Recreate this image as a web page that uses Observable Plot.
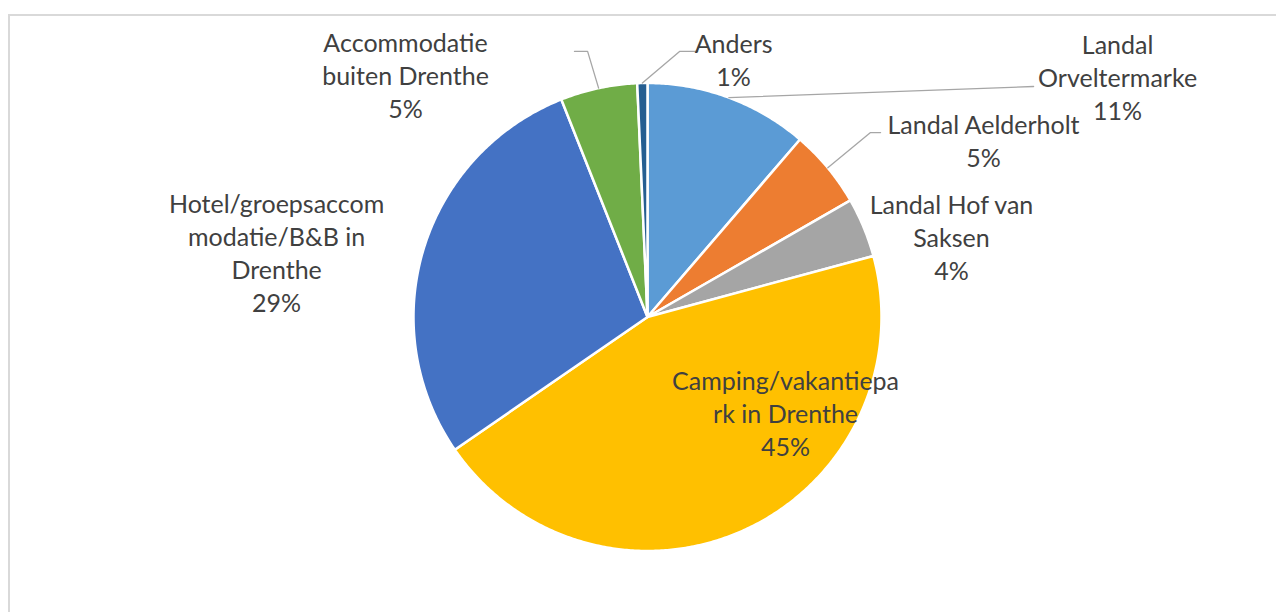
<!DOCTYPE html>
<html>
<head>
<meta charset="utf-8">
<script src="https://cdn.jsdelivr.net/npm/d3@7"></script>
<script src="https://cdn.jsdelivr.net/npm/@observablehq/plot@0.6"></script>
<style>
  html, body { margin: 0; padding: 0; background: #fff; overflow: hidden; width: 1276px; height: 612px; }
  #frame { position: absolute; left: 8px; top: 14px; width: 1400px; height: 800px; border: 2px solid #d9d9d9; box-sizing: border-box; }
  #chart { position: absolute; left: 0; top: 0; }
</style>
</head>
<body>
<div id="frame"></div>
<div id="chart"></div>
<script>
// ---- data ----
const categories = [
  "Landal Orveltermarke",
  "Landal Aelderholt",
  "Landal Hof van Saksen",
  "Camping/vakantiepark in Drenthe",
  "Hotel/groepsaccommodatie/B&B in Drenthe",
  "Accommodatie buiten Drenthe",
  "Anders"
];
const values = [11.3, 5.4, 4.1, 44.6, 28.6, 5.3, 0.7];
const labelText = [
  "Landal\nOrveltermarke",
  "Landal Aelderholt",
  "Landal Hof van\nSaksen",
  "Camping/vakantiepa\nrk in Drenthe",
  "Hotel/groepsaccom\nmodatie/B&B in\nDrenthe",
  "Accommodatie\nbuiten Drenthe",
  "Anders"
];
const colors = ["#5B9BD5", "#ED7D31", "#A5A5A5", "#FFC000", "#4472C4", "#70AD47", "#255E91"];

// ---- layout (in units of pie radius, relative to pie centre; y up) ----
const W = 1276, H = 612, CX = 647, CY = 316.5, R = 234;
const labelPos = [
  [2.009, 1.019], [1.436, 0.748], [1.299, 0.333], [0.590, -0.417],
  [-1.585, 0.269], [-1.034, 1.024], [0.368, 1.094]
];
// leader line label-side points (null = no leader)
const leaderStart = [
  [[1.650, 0.985]],
  [[0.996, 0.788], [0.953, 0.788]],
  null, null, null,
  [[-0.312, 1.135], [-0.256, 1.135]],
  [[0.214, 1.135], [0.137, 1.135]]
];

const total = d3.sum(values);
const toXY = (a, r) => [r * Math.sin(a), r * Math.cos(a)];

// slice polygons
const slicePts = [];
let acc = 0;
const mids = [];
values.forEach((v, i) => {
  const a0 = acc / total * 2 * Math.PI;
  acc += v;
  const a1 = acc / total * 2 * Math.PI;
  mids.push((a0 + a1) / 2);
  const n = Math.max(2, Math.ceil((a1 - a0) / (Math.PI / 360)));
  slicePts.push({name: categories[i], x: 0, y: 0});
  for (let k = 0; k <= n; k++) {
    const [x, y] = toXY(a0 + (a1 - a0) * k / n, 1);
    slicePts.push({name: categories[i], x, y});
  }
  slicePts.push({name: categories[i], x: 0, y: 0});
});

// leader lines
const leaderPts = [];
leaderStart.forEach((pts, i) => {
  if (!pts) return;
  pts.forEach(([x, y]) => leaderPts.push({id: i, x, y}));
  const [ex, ey] = toXY(mids[i], 1.0);
  leaderPts.push({id: i, x: ex, y: ey});
});

// labels
const labels = categories.map((c, i) => ({
  text: labelText[i] + "\n" + Math.round(values[i] / total * 100) + "%",
  x: labelPos[i][0], y: labelPos[i][1]
}));

const chart = Plot.plot({
  width: W, height: H,
  margin: 0,
  x: {domain: [-CX / R, (W - CX) / R], range: [0, W], axis: null},
  y: {domain: [-(H - CY) / R, CY / R], range: [H, 0], axis: null},
  color: {domain: categories, range: colors},
  style: {fontFamily: "Lato, sans-serif", background: "transparent"},
  marks: [
    Plot.line(slicePts, {x: "x", y: "y", z: "name", fill: "name", stroke: "white", strokeWidth: 2.5, strokeLinejoin: "round", curve: "linear"}),
    Plot.line(leaderPts, {x: "x", y: "y", z: "id", stroke: "#A6A6A6", strokeWidth: 1.3}),
    Plot.text(labels, {x: "x", y: "y", text: "text", fontSize: 25, lineHeight: 1.32, dy: -2.5, fill: "#404040"})
  ]
});
document.getElementById("chart").appendChild(chart);
</script>
</body>
</html>
